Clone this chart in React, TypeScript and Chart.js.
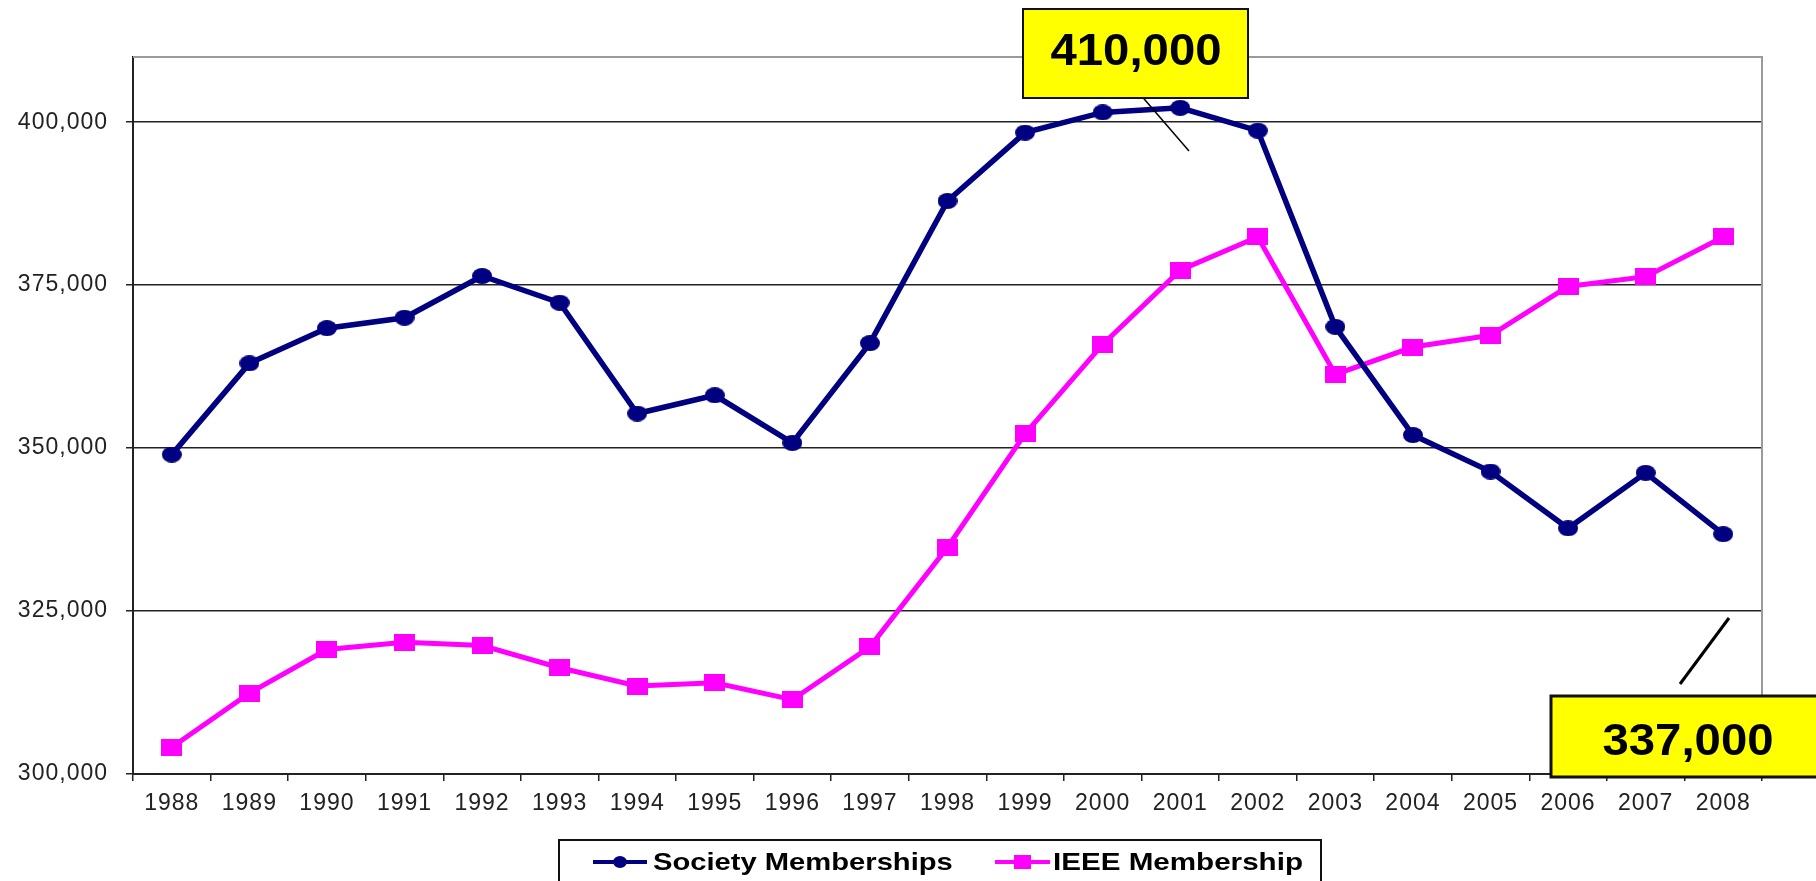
import React, { useEffect, useRef } from 'react';
import { Chart, registerables } from 'chart.js';

Chart.register(...registerables);

const years = ['1988', '1989', '1990', '1991', '1992', '1993', '1994', '1995', '1996', '1997', '1998', '1999', '2000', '2001', '2002', '2003', '2004', '2005', '2006', '2007', '2008'];
const societyMemberships = [349000, 363000, 368400, 370000, 376400, 372300, 355300, 358100, 350800, 366100, 387900, 398400, 401500, 402200, 398700, 368600, 352000, 346400, 337700, 346200, 336800];
const ieeeMembership = [304100, 312400, 319100, 320200, 319700, 316300, 313500, 314000, 311400, 319500, 334800, 352200, 365900, 377300, 382400, 361300, 365500, 367300, 374800, 376300, 382400];
const yTickValues = [300000, 325000, 350000, 375000, 400000];
const yMin = 300000;
const yMax = 410000;
const seriesNames = ['Society Memberships', 'IEEE Membership'];
const calloutLabels = ['410,000', '337,000'];

const NAVY = '#000080';
const MAGENTA = '#FF00FF';
const FONT = "'Liberation Sans', Arial, Helvetica, sans-serif";

function makeMarker(w: number, h: number, color: string, shape: 'ellipse' | 'rect') {
  const c = document.createElement('canvas');
  c.width = w;
  c.height = h;
  const g = c.getContext('2d')!;
  g.fillStyle = color;
  if (shape === 'ellipse') {
    g.beginPath();
    g.ellipse(w / 2, h / 2, w / 2, h / 2, 0, 0, Math.PI * 2);
    g.fill();
  } else {
    g.fillRect(0, 0, w, h);
  }
  return c;
}

function stretchedText(ctx: CanvasRenderingContext2D, text: string, x: number, y: number, sx: number, align: 'left' | 'center') {
  const w = ctx.measureText(text).width * sx;
  ctx.save();
  ctx.translate(align === 'center' ? x - w / 2 : x, y);
  ctx.scale(sx, 1);
  ctx.textAlign = 'left';
  ctx.fillText(text, 0, 0);
  ctx.restore();
}

const spacingPlugin = {
  id: 'spacing',
  beforeDraw(chart: any) {
    (chart.ctx as any).letterSpacing = '1px';
  },
  beforeDatasetsDraw(chart: any) {
    (chart.ctx as any).letterSpacing = '0px';
  },
};

const framePlugin = {
  id: 'frame',
  beforeDatasetsDraw(chart: any) {
    const { ctx, chartArea } = chart;
    ctx.save();
    ctx.strokeStyle = '#9a9a9a';
    ctx.lineWidth = 2;
    ctx.beginPath();
    ctx.moveTo(chartArea.left, chartArea.top);
    ctx.lineTo(chartArea.right, chartArea.top);
    ctx.lineTo(chartArea.right, chartArea.bottom);
    ctx.stroke();
    ctx.restore();
  },
};

const overlayPlugin = {
  id: 'overlay',
  afterDraw(chart: any) {
    const ctx: CanvasRenderingContext2D = chart.ctx;
    ctx.save();
    (ctx as any).letterSpacing = '0px';

    // Legend box
    ctx.strokeStyle = '#111';
    ctx.lineWidth = 2;
    ctx.strokeRect(559, 840, 762, 60);
    const cy = 862;
    ctx.font = `bold 24px ${FONT}`;
    ctx.textBaseline = 'alphabetic';
    // Society item
    ctx.strokeStyle = NAVY;
    ctx.lineWidth = 4;
    ctx.beginPath();
    ctx.moveTo(593, cy);
    ctx.lineTo(647, cy);
    ctx.stroke();
    ctx.fillStyle = NAVY;
    ctx.beginPath();
    ctx.ellipse(620, cy, 7, 6, 0, 0, Math.PI * 2);
    ctx.fill();
    ctx.fillStyle = '#000';
    stretchedText(ctx, seriesNames[0], 653, 870, 1.215, 'left');
    // IEEE item
    ctx.strokeStyle = MAGENTA;
    ctx.lineWidth = 4;
    ctx.beginPath();
    ctx.moveTo(995, cy);
    ctx.lineTo(1050, cy);
    ctx.stroke();
    ctx.fillStyle = MAGENTA;
    ctx.fillRect(1014, cy - 7, 17, 14);
    ctx.fillStyle = '#000';
    stretchedText(ctx, seriesNames[1], 1053, 870, 1.233, 'left');

    // Callout 1
    ctx.strokeStyle = '#000';
    ctx.lineWidth = 1.5;
    ctx.beginPath();
    ctx.moveTo(1139, 93);
    ctx.lineTo(1189, 151);
    ctx.stroke();
    ctx.fillStyle = '#FFFF00';
    ctx.fillRect(1023, 9, 225, 89);
    ctx.strokeStyle = '#111';
    ctx.lineWidth = 2;
    ctx.strokeRect(1023, 9, 225, 89);
    ctx.fillStyle = '#000';
    ctx.font = `bold 44px ${FONT}`;
    stretchedText(ctx, calloutLabels[0], 1136, 65, 1.075, 'center');

    // Callout 2
    ctx.strokeStyle = '#000';
    ctx.lineWidth = 3;
    ctx.beginPath();
    ctx.moveTo(1680, 684);
    ctx.lineTo(1729, 618);
    ctx.stroke();
    ctx.fillStyle = '#FFFF00';
    ctx.fillRect(1551, 696, 280, 81);
    ctx.strokeStyle = '#111';
    ctx.lineWidth = 3;
    ctx.strokeRect(1551, 696, 280, 81);
    ctx.fillStyle = '#000';
    stretchedText(ctx, calloutLabels[1], 1688, 755, 1.075, 'center');

    ctx.restore();
  },
};

export default function App() {
  const ref = useRef<HTMLCanvasElement | null>(null);

  useEffect(() => {
    document.body.style.margin = '0';
    document.body.style.overflow = 'hidden';
    const canvas = ref.current;
    if (!canvas) return;
    const circle = makeMarker(20, 16, NAVY, 'ellipse');
    const square = makeMarker(21, 17, MAGENTA, 'rect');
    const tickFont = { family: FONT, size: 23 };

    const chart = new Chart(canvas, {
      type: 'line',
      data: {
        labels: years,
        datasets: [
          {
            label: seriesNames[0],
            data: societyMemberships,
            borderColor: NAVY,
            backgroundColor: NAVY,
            borderWidth: 5.5,
            pointStyle: circle as any,
            pointRadius: 8,
            tension: 0,
          },
          {
            label: seriesNames[1],
            data: ieeeMembership,
            borderColor: MAGENTA,
            backgroundColor: MAGENTA,
            borderWidth: 5,
            pointStyle: square as any,
            pointRadius: 8,
            tension: 0,
          },
        ],
      },
      options: {
        responsive: false,
        animation: false,
        devicePixelRatio: 1,
        layout: { padding: { top: 57, right: 54, bottom: 67, left: 0 } },
        plugins: {
          legend: { display: false },
          tooltip: { enabled: false },
        },
        scales: {
          x: {
            offset: true,
            grid: {
              display: true,
              drawOnChartArea: false,
              drawTicks: true,
              tickLength: 7,
              offset: true,
              color: '#222',
              lineWidth: 1.5,
            },
            border: { display: true, color: '#222', width: 2 },
            ticks: { font: tickFont, color: '#222', padding: 9, maxRotation: 0, autoSkip: false },
            afterFit: (s: any) => {
              s.height = 40;
            },
          },
          y: {
            min: yMin,
            max: yMax,
            afterBuildTicks: (s: any) => {
              s.ticks = yTickValues.map((v) => ({ value: v }));
            },
            grid: { color: '#222', lineWidth: 1.5, tickLength: 7, drawTicks: true },
            border: { display: true, color: '#222', width: 2 },
            ticks: {
              font: tickFont,
              color: '#222',
              padding: 18,
              callback: (v: any) => Number(v).toLocaleString('en-US'),
            },
            afterFit: (s: any) => {
              s.width = 133;
            },
          },
        },
      },
      plugins: [spacingPlugin, framePlugin, overlayPlugin],
    });

    return () => chart.destroy();
  }, []);

  return <canvas ref={ref} width={1816} height={881} style={{ display: 'block', width: 1816, height: 881 }} />;
}
